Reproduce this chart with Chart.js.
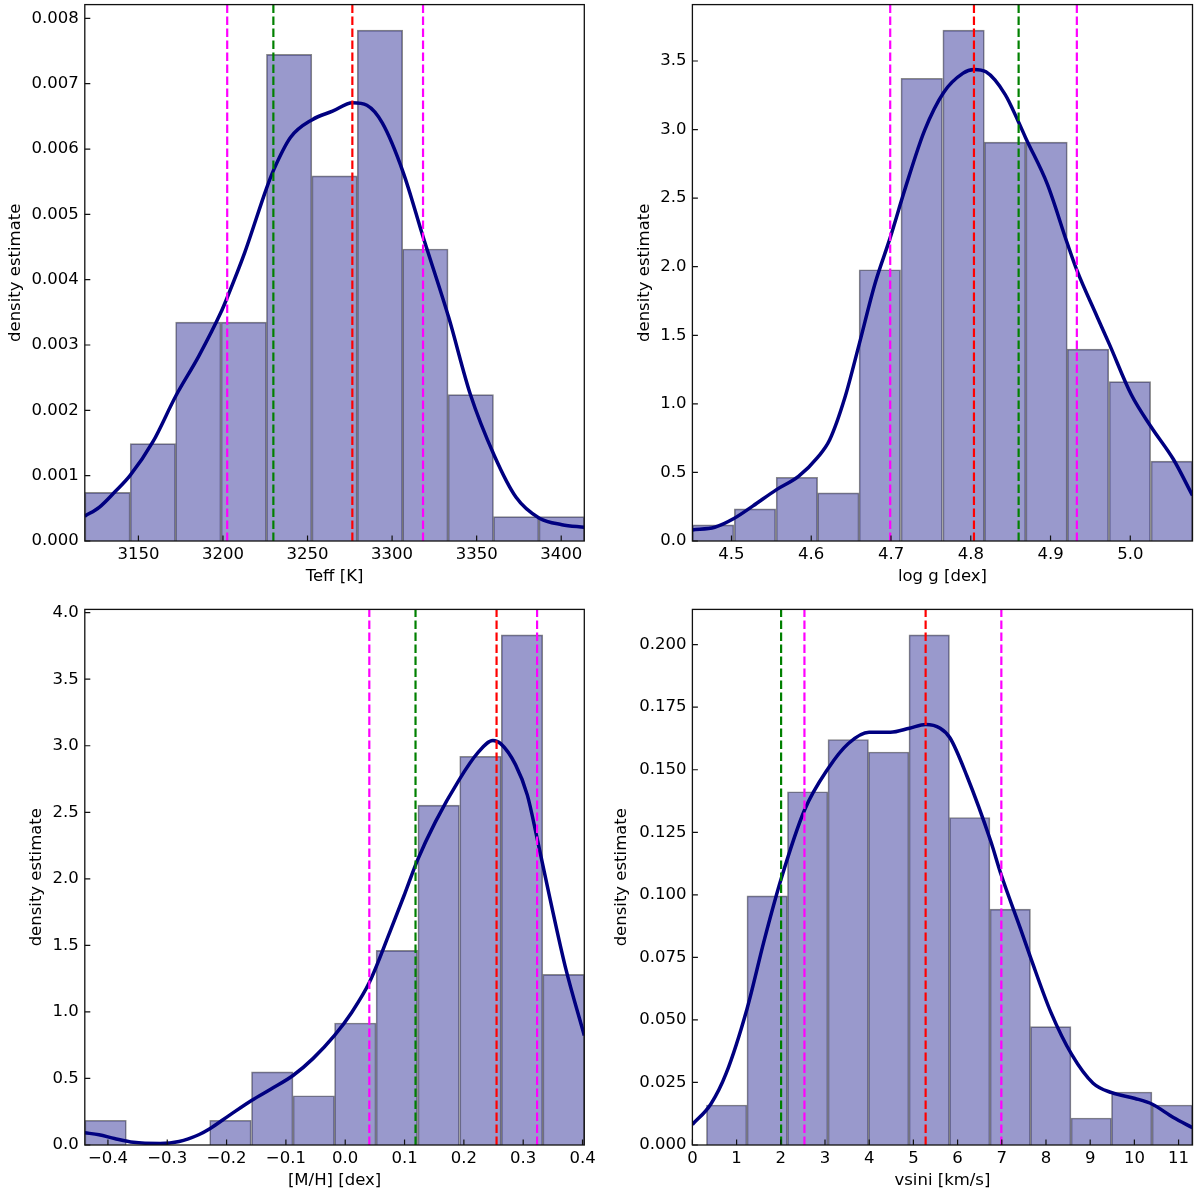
<!DOCTYPE html>
<html>
<head>
<meta charset="utf-8">
<title>Parameter density estimates</title>
<script src="https://cdn.jsdelivr.net/npm/chart.js@4.4.0/dist/chart.umd.min.js"></script>
<style>
    html, body { margin: 0; padding: 0; background: #fff; }
    #wrap { position: relative; width: 1200px; height: 1196px; }
    #wrap canvas { position: absolute; }
</style>
</head>
<body>
<div id="wrap">
    <canvas id="teffChart" width="600" height="598" style="left:0;top:0"></canvas>
    <canvas id="loggChart" width="600" height="598" style="left:600px;top:0"></canvas>
    <canvas id="mhChart" width="600" height="598" style="left:0;top:598px"></canvas>
    <canvas id="vsiniChart" width="600" height="598" style="left:600px;top:598px"></canvas>
</div>
<script>
// ---- Teff [K] ----
const teffEdges = [3118.3, 3145.15, 3172.0, 3198.85, 3225.7, 3252.55, 3279.4, 3306.25, 3333.1, 3359.95, 3386.8, 3413.65];
const teffDensity = [0.000745, 0.00149, 0.00335, 0.00335, 0.00745, 0.00559, 0.00782, 0.00447, 0.00224, 0.000374, 0.000374];
const teffKdeX = [3118.3, 3127, 3136, 3145, 3158.6, 3172.1, 3185.7, 3198.8, 3202.4, 3212.8, 3225.9, 3229.8, 3240, 3252.8,
    3264.8, 3276.6, 3285.1, 3294.2, 3306.6, 3318.4, 3333.5, 3346.2, 3360.4, 3373.3, 3387.1, 3400.4, 3413.65];
const teffKdeY = [0.00038, 0.00052, 0.00075, 0.00100, 0.00152, 0.00222, 0.00283, 0.00350, 0.00372, 0.00441, 0.00541, 0.00567,
    0.00618, 0.00645, 0.00658, 0.00671, 0.00667, 0.00640, 0.00564, 0.00465, 0.00342, 0.00225, 0.00131, 0.00067, 0.00035,
    0.00025, 0.00021];
// marker order: lower percentile, green, red, upper percentile
const teffMarkers = [3202.5, 3229.8, 3276.5, 3318.3];
const teffXTicks = [3150, 3200, 3250, 3300, 3350, 3400];
const teffYTicks = [0, 0.001, 0.002, 0.003, 0.004, 0.005, 0.006, 0.007, 0.008];

// ---- log g [dex] ----
const loggEdges = [4.451, 4.503, 4.556, 4.608, 4.660, 4.712, 4.765, 4.817, 4.869, 4.921, 4.973, 5.026, 5.078];
const loggDensity = [0.117, 0.234, 0.465, 0.351, 1.978, 3.374, 3.725, 2.909, 2.909, 1.399, 1.162, 0.582];
const loggKdeX = [4.451, 4.479, 4.503, 4.527, 4.556, 4.584, 4.608, 4.623, 4.642, 4.660, 4.680, 4.699, 4.718, 4.742, 4.766,
    4.790, 4.804, 4.819, 4.843, 4.860, 4.869, 4.896, 4.921, 4.933, 4.958, 4.974, 5.001, 5.026, 5.054, 5.078];
const loggKdeY = [0.081, 0.100, 0.164, 0.256, 0.373, 0.471, 0.610, 0.736, 1.042, 1.432, 1.878, 2.212, 2.575, 2.993, 3.271,
    3.410, 3.438, 3.421, 3.257, 3.054, 2.937, 2.602, 2.171, 1.975, 1.641, 1.432, 1.070, 0.833, 0.596, 0.332];
const loggMarkers = [4.699, 4.860, 4.804, 4.933];
const loggXTicks = [4.5, 4.6, 4.7, 4.8, 4.9, 5.0];
const loggYTicks = [0, 0.5, 1.0, 1.5, 2.0, 2.5, 3.0, 3.5];

// ---- [M/H] [dex] ----
const mhEdges = [-0.439, -0.369, -0.299, -0.229, -0.158, -0.088, -0.018, 0.052, 0.122, 0.193, 0.263, 0.333, 0.403];
const mhDensity = [0.186, 0, 0, 0.186, 0.550, 0.370, 0.917, 1.462, 2.554, 2.921, 3.833, 1.282];
const mhKdeX = [-0.439, -0.415, -0.389, -0.357, -0.312, -0.280, -0.247, -0.229, -0.196, -0.158, -0.125, -0.088, -0.054,
    -0.018, 0.010, 0.041, 0.075, 0.100, 0.122, 0.152, 0.192, 0.223, 0.249, 0.262, 0.287, 0.307, 0.323, 0.345, 0.371, 0.403];
const mhKdeY = [0.092, 0.077, 0.049, 0.020, 0.011, 0.026, 0.077, 0.120, 0.221, 0.335, 0.421, 0.522, 0.651, 0.823, 0.990,
    1.224, 1.597, 1.884, 2.142, 2.428, 2.744, 2.944, 3.039, 3.016, 2.858, 2.629, 2.314, 1.855, 1.339, 0.823];
const mhMarkers = [0.0406, 0.1185, 0.2551, 0.3234];
const mhXTicks = [-0.4, -0.3, -0.2, -0.1, 0.0, 0.1, 0.2, 0.3, 0.4];
const mhYTicks = [0, 0.5, 1.0, 1.5, 2.0, 2.5, 3.0, 3.5, 4.0];

// ---- vsini [km/s] ----
const vsiniEdges = [0.318, 1.234, 2.151, 3.067, 3.984, 4.900, 5.816, 6.733, 7.649, 8.566, 9.482, 10.398, 11.315];
const vsiniDensity = [0.0160, 0.0996, 0.1412, 0.1621, 0.1571, 0.2039, 0.1309, 0.0943, 0.0473, 0.0108, 0.0212, 0.0160];
const vsiniKdeX = [0, 0.415, 0.761, 1.237, 1.626, 2.007, 2.535, 3.071, 3.529, 3.997, 4.481, 4.913, 5.277, 5.606, 5.830,
    6.211, 6.747, 6.990, 7.422, 7.664, 8.114, 8.581, 9.066, 9.490, 10.017, 10.406, 10.882, 11.315];
const vsiniKdeY = [0.0082, 0.0163, 0.0285, 0.0545, 0.0819, 0.1063, 0.1338, 0.1505, 0.1605, 0.1650, 0.1650, 0.1666,
    0.1681, 0.1666, 0.1627, 0.1475, 0.1216, 0.1078, 0.0865, 0.0743, 0.0529, 0.0362, 0.0247, 0.0209, 0.0186, 0.0163,
    0.0110, 0.0069];
const vsiniMarkers = [2.535, 2.007, 5.277, 6.990];
const vsiniXTicks = [0, 1, 2, 3, 4, 5, 6, 7, 8, 9, 10, 11];
const vsiniYTicks = [0, 0.025, 0.05, 0.075, 0.1, 0.125, 0.15, 0.175, 0.2];

const MARKER_COLORS = ['#ff00ff', '#008000', '#ff0000', '#ff00ff'];
const FONT = { family: 'DejaVu Sans', size: 16.5 };
const LINE_H = FONT.size * 1.2;

Chart.defaults.font.family = FONT.family;
Chart.defaults.color = '#000';

const fmt = (v, d) => v.toFixed(d).replace('-', '\u2212');

/**
 * Frame around the axes plus inward tick marks on the left and bottom
 */
const frameAndTicks = {
    id: 'frameAndTicks',
    afterDatasetsDraw(chart) {
        const { ctx, chartArea: a, scales } = chart;
        ctx.save();
        ctx.strokeStyle = '#111';
        ctx.lineWidth = 1.2;
        ctx.beginPath();
        scales.x.ticks.forEach(t => {
            const px = scales.x.getPixelForValue(t.value);
            ctx.moveTo(px, a.bottom);
            ctx.lineTo(px, a.bottom - 5.5);
        });
        scales.y.ticks.forEach(t => {
            const py = scales.y.getPixelForValue(t.value);
            ctx.moveTo(a.left, py);
            ctx.lineTo(a.left + 5.5, py);
        });
        ctx.stroke();
        ctx.lineWidth = 1.3;
        ctx.strokeRect(a.left, a.top, a.right - a.left, a.bottom - a.top);
        ctx.restore();
    }
};

function zeroPadding(scale) {
    scale.paddingLeft = 0;
    scale.paddingRight = 0;
    scale.paddingTop = 0;
    scale.paddingBottom = 0;
}

/**
 * Build one histogram + KDE panel
 */
function drawPanel(canvasId, p) {
    const centers = p.edges.slice(0, -1).map((e, i) => (e + p.edges[i + 1]) / 2);
    const yMax = Math.max(...p.density) * 1.05;

    const markerSets = p.markers.map((m, i) => ({
        type: 'line',
        data: [{ x: m, y: 0 }, { x: m, y: yMax }],
        borderColor: MARKER_COLORS[i],
        borderWidth: 2.2,
        borderDash: [8.5, 3.5],
        pointRadius: 0,
        order: 0
    }));

    const config = {
        type: 'bar',
        data: {
            datasets: [
                ...markerSets,
                {
                    type: 'line',
                    data: p.kdeX.map((x, i) => ({ x, y: p.kdeY[i] })),
                    borderColor: '#000080',
                    borderWidth: 3.5,
                    pointRadius: 0,
                    cubicInterpolationMode: 'monotone',
                    order: 1
                },
                {
                    type: 'bar',
                    data: centers.map((x, i) => ({ x, y: p.density[i] })),
                    backgroundColor: 'rgba(0,0,128,0.4)',
                    borderColor: 'rgba(60,60,60,0.6)',
                    borderWidth: 1,
                    barPercentage: 1,
                    categoryPercentage: 1,
                    order: 2
                }
            ]
        },
        options: {
            responsive: false,
            animation: false,
            devicePixelRatio: 1,
            layout: { padding: { top: p.padTop, right: p.padRight, left: 0, bottom: 0 } },
            plugins: { legend: { display: false }, tooltip: { enabled: false } },
            scales: {
                x: {
                    type: 'linear',
                    min: p.xRange[0],
                    max: p.xRange[1],
                    offset: false,
                    grid: { display: false, drawTicks: false },
                    border: { display: false },
                    afterBuildTicks: s => { s.ticks = p.xTicks.map(v => ({ value: v })); },
                    afterFit: s => { s.height = p.xHeight; zeroPadding(s); },
                    ticks: {
                        autoSkip: false, maxRotation: 0, padding: 3.6, font: FONT, color: '#000',
                        callback: v => fmt(v, p.xDec)
                    },
                    title: {
                        display: true, text: p.xTitle, font: FONT, color: '#000',
                        padding: { top: 0, bottom: p.xHeight - 35.5 - LINE_H / 2 }
                    }
                },
                y: {
                    type: 'linear',
                    min: 0,
                    max: yMax,
                    grid: { display: false, drawTicks: false },
                    border: { display: false },
                    afterBuildTicks: s => { s.ticks = p.yTicks.map(v => ({ value: v })); },
                    afterFit: s => { s.width = p.yWidth; zeroPadding(s); },
                    ticks: {
                        autoSkip: false, padding: 6, font: FONT, color: '#000',
                        callback: v => fmt(v, p.yDec)
                    },
                    title: {
                        display: true, text: 'density estimate', font: FONT, color: '#000',
                        padding: { top: p.yTitleX - LINE_H / 2, bottom: 0 }
                    }
                }
            }
        },
        plugins: [frameAndTicks]
    };

    return new Chart(document.getElementById(canvasId), config);
}

drawPanel('teffChart', {
    edges: teffEdges, density: teffDensity, kdeX: teffKdeX, kdeY: teffKdeY, markers: teffMarkers,
    xTicks: teffXTicks, yTicks: teffYTicks, xDec: 0, yDec: 3, xTitle: 'Teff [K]',
    xRange: [teffEdges[0], teffEdges[teffEdges.length - 1]],
    padTop: 4.6, padRight: 15.7, yWidth: 84.8, xHeight: 57, yTitleX: 15.5
});

drawPanel('loggChart', {
    edges: loggEdges, density: loggDensity, kdeX: loggKdeX, kdeY: loggKdeY, markers: loggMarkers,
    xTicks: loggXTicks, yTicks: loggYTicks, xDec: 1, yDec: 1, xTitle: 'log g [dex]',
    xRange: [loggEdges[0], loggEdges[loggEdges.length - 1]],
    padTop: 4.6, padRight: 7.5, yWidth: 92.4, xHeight: 57, yTitleX: 44.7
});

drawPanel('mhChart', {
    edges: mhEdges, density: mhDensity, kdeX: mhKdeX, kdeY: mhKdeY, markers: mhMarkers,
    xTicks: mhXTicks, yTicks: mhYTicks, xDec: 1, yDec: 1, xTitle: '[M/H] [dex]',
    xRange: [mhEdges[0], mhEdges[mhEdges.length - 1]],
    padTop: 11.4, padRight: 15.7, yWidth: 84.8, xHeight: 51, yTitleX: 37
});

drawPanel('vsiniChart', {
    edges: vsiniEdges, density: vsiniDensity, kdeX: vsiniKdeX, kdeY: vsiniKdeY, markers: vsiniMarkers,
    xTicks: vsiniXTicks, yTicks: vsiniYTicks, xDec: 0, yDec: 3, xTitle: 'vsini [km/s]',
    xRange: [0, vsiniEdges[vsiniEdges.length - 1]],
    padTop: 11.4, padRight: 7.5, yWidth: 92.4, xHeight: 51, yTitleX: 22
});
</script>
</body>
</html>
